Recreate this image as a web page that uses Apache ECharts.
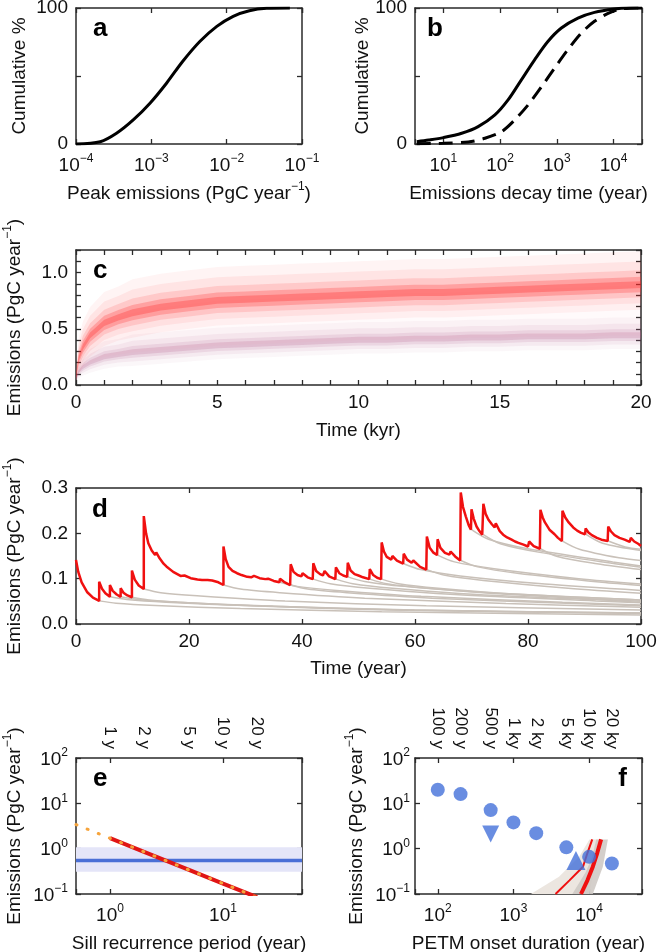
<!DOCTYPE html>
<html><head><meta charset="utf-8">
<script src="https://cdn.jsdelivr.net/npm/echarts@6.0.0/dist/echarts.min.js"></script>
<style>html,body{margin:0;padding:0;background:#fff}#c{width:657px;height:952px}</style>
</head><body><div id="c"></div><script>
// ---------------- DATA ----------------
// panel a: cumulative distribution of peak emissions
const aPeak = [1e-4, 2.1e-4, 3.45e-4, 5.75e-4, 9.6e-4, 1.59e-3, 2.6e-3, 4.4e-3, 7.4e-3, 1.22e-2, 2.0e-2, 3.4e-2, 6.9e-2];
const aCum  = [0, 1.7, 7.9, 17.7, 30, 44.7, 60.7, 75.4, 86.5, 93.9, 98, 99.75, 100];
// panel b: cumulative distribution of decay times
const bSolidT   = [3.4, 5.5, 10, 21, 41, 81, 138, 237, 405, 694, 1200, 2350, 4600, 10300, 17700, 31600];
const bSolidCum = [1.7, 2.9, 4.7, 7.9, 12.8, 21.4, 32.4, 47.2, 61.9, 75.4, 85.3, 92.6, 96.8, 99.3, 100, 100];
const bDashT    = [3.4, 10, 27.5, 54, 106, 181, 310, 530, 910, 1560, 2700, 4600, 7800, 13500, 31600];
const bDashCum  = [0.2, 0.5, 1.5, 4.2, 9.1, 17.7, 28.7, 41.8, 55.8, 69.3, 81.6, 90.2, 95.8, 99.3, 100];
// panel c: ensemble density (centre and spread of the two clouds)
const cTime      = [0, 0.1, 0.25, 0.5, 1, 1.5, 2, 3, 4, 5, 6, 7, 8, 9, 10, 11, 12, 13, 14, 15, 16, 17, 18, 19, 20];
const cRedMid    = [0.08, 0.24, 0.34, 0.44, 0.55, 0.60, 0.64, 0.69, 0.72, 0.75, 0.76, 0.77, 0.78, 0.79, 0.80, 0.81, 0.82, 0.82, 0.83, 0.84, 0.85, 0.86, 0.87, 0.88, 0.89];
const cRedSpread = [0.03, 0.08, 0.10, 0.11, 0.12, 0.12, 0.13, 0.13, 0.13, 0.13, 0.13, 0.13, 0.13, 0.13, 0.13, 0.13, 0.13, 0.13, 0.13, 0.13, 0.13, 0.13, 0.13, 0.13, 0.13];
const cPurMid    = [0.06, 0.12, 0.16, 0.20, 0.25, 0.27, 0.29, 0.31, 0.33, 0.35, 0.36, 0.37, 0.38, 0.39, 0.40, 0.40, 0.41, 0.41, 0.42, 0.42, 0.43, 0.43, 0.43, 0.44, 0.44];
const cPurSpread = [0.02, 0.04, 0.05, 0.06, 0.07, 0.07, 0.08, 0.08, 0.08, 0.08, 0.08, 0.08, 0.08, 0.08, 0.08, 0.08, 0.08, 0.08, 0.08, 0.08, 0.08, 0.08, 0.08, 0.08, 0.08];
// panel d: total emissions (red) and decaying contributions (grey)
const dRed = [[0,0.141],[0.4,0.115],[1,0.092],[2,0.070],[3,0.058],[4.1,0.051],
 [4.1,0.093],[4.6,0.078],[5.2,0.068],[6.0,0.060],
 [6.0,0.086],[6.5,0.073],[7.2,0.065],[7.9,0.060],
 [7.9,0.079],[8.4,0.069],[9.1,0.063],[9.9,0.059],
 [9.9,0.118],[10.4,0.098],[11.1,0.085],[12.0,0.077],
 [12.0,0.238],[12.4,0.200],[12.8,0.178],[13.4,0.162],[14.0,0.152],[14.2,0.158],[14.8,0.145],[15.5,0.133],[16.0,0.127],[16.2,0.130],[17.2,0.115],[18.5,0.106],[19.2,0.107],[20.3,0.101],[21.5,0.098],[22.3,0.097],[22.5,0.101],[23.3,0.097],[24.1,0.096],[24.3,0.099],[25.2,0.092],[26.1,0.086],
 [26.1,0.171],[26.5,0.143],[27.0,0.126],[27.7,0.117],[28.5,0.112],[29.3,0.108],[30.3,0.104],[31.0,0.103],[31.5,0.106],[32.5,0.101],[33.5,0.099],[34.0,0.100],[35.0,0.095],[36.0,0.092],
 [36.1,0.100],[36.8,0.093],[37.9,0.086],
 [38.0,0.132],[38.5,0.115],[39.2,0.108],[39.9,0.105],[40.1,0.112],[41.0,0.103],[41.9,0.099],
 [42.0,0.134],[42.5,0.117],[43.2,0.110],[43.7,0.107],[44.0,0.117],[44.8,0.105],[45.9,0.099],
 [46.0,0.125],[46.6,0.112],[47.3,0.107],[48.0,0.104],
 [48.1,0.135],[48.6,0.118],[49.3,0.110],[50.0,0.107],[50.8,0.103],[51.9,0.099],
 [52.0,0.121],[52.6,0.108],[53.3,0.102],[54.0,0.099],
 [54.1,0.180],[54.5,0.160],[55.0,0.148],[55.8,0.142],[56.0,0.150],[56.8,0.140],[57.9,0.133],
 [58.0,0.155],[58.6,0.142],[59.4,0.135],[59.7,0.140],[60.9,0.126],[62.0,0.120],
 [62.1,0.193],[62.6,0.168],[63.2,0.158],[63.9,0.152],
 [64.0,0.187],[64.5,0.168],[65.3,0.157],[66.1,0.153],[66.3,0.160],[67.1,0.149],[68.0,0.140],
 [68.1,0.290],[68.5,0.258],[69.0,0.237],[69.5,0.218],[69.9,0.208],
 [70.0,0.253],[70.4,0.232],[70.9,0.215],[71.4,0.205],[71.9,0.197],
 [72.1,0.265],[72.5,0.243],[73.0,0.230],[73.6,0.220],[74.1,0.213],[74.3,0.222],[75.0,0.205],[75.6,0.197],[76.3,0.191],[77.1,0.186],[77.7,0.182],[78.3,0.179],[79.2,0.175],[80.0,0.171],[80.2,0.182],[81.0,0.172],[82.1,0.166],
 [82.2,0.252],[82.6,0.235],[83.0,0.224],[83.8,0.208],[84.7,0.198],[85.3,0.190],[86.0,0.183],
 [86.1,0.250],[86.6,0.235],[87.2,0.224],[88.0,0.213],[88.7,0.206],[89.4,0.201],[90.1,0.198],
 [90.2,0.211],[90.7,0.202],[91.3,0.196],[91.6,0.199],[92.2,0.190],[93.0,0.186],[94.1,0.183],
 [94.2,0.215],[94.7,0.204],[95.3,0.196],[96.2,0.190],[97.1,0.186],[98.0,0.181],[98.2,0.190],[98.8,0.182],[99.5,0.177],[100,0.172]];
const dGrey = [
 [[4.1,0.051],[7.1,0.046],[14.1,0.041],[29.1,0.034],[54.1,0.027],[100,0.020]],
 [[6,0.060],[9,0.054],[16,0.048],[31,0.040],[56,0.031],[100,0.023]],
 [[7.9,0.060],[10.9,0.054],[17.9,0.048],[32.9,0.040],[57.9,0.031],[100,0.024]],
 [[9.9,0.059],[12.9,0.053],[19.9,0.047],[34.9,0.039],[59.9,0.031],[100,0.024]],
 [[12,0.077],[15,0.069],[22,0.062],[37,0.051],[62,0.040],[100,0.031]],
 [[26.1,0.086],[29.1,0.077],[36.1,0.069],[51.1,0.057],[76.1,0.045],[100,0.037]],
 [[36.1,0.092],[39.1,0.083],[46.1,0.074],[61.1,0.061],[86.1,0.048],[100,0.042]],
 [[38,0.086],[41,0.077],[48,0.069],[63,0.057],[88,0.045],[100,0.040]],
 [[42,0.099],[45,0.089],[52,0.079],[67,0.065],[92,0.051],[100,0.047]],
 [[46,0.099],[49,0.089],[56,0.079],[71,0.065],[96,0.051],[100,0.048]],
 [[48.1,0.104],[51.1,0.094],[58.1,0.083],[73.1,0.069],[98.1,0.054],[100,0.052]],
 [[52,0.099],[55,0.089],[62,0.079],[77,0.065],[100,0.050]],
 [[54.1,0.099],[57.1,0.089],[64.1,0.079],[79.1,0.065],[100,0.053]],
 [[58,0.133],[61,0.120],[68,0.106],[83,0.088],[100,0.074]],
 [[62.1,0.120],[65.1,0.108],[72.1,0.096],[87.1,0.079],[100,0.068]],
 [[64,0.152],[67,0.137],[74,0.122],[89,0.100],[100,0.088]],
 [[68.1,0.140],[71.1,0.126],[78.1,0.112],[93.1,0.092],[100,0.085]],
 [[70,0.208],[73,0.187],[80,0.166],[95,0.137],[100,0.128]],
 [[72.1,0.197],[75.1,0.177],[82.1,0.158],[97.1,0.130],[100,0.125]],
 [[82.2,0.166],[85.2,0.149],[92.2,0.133],[100,0.120]],
 [[86.1,0.183],[89.1,0.165],[96.1,0.146],[100,0.140]],
 [[90.2,0.198],[93.2,0.178],[100,0.162]],
 [[94.2,0.183],[97.2,0.170],[100,0.165]]
];
// panel e
const eRedX = [1, 2, 5, 10, 20];
const eRedY = [1.7, 0.85, 0.34, 0.17, 0.085];
const eOrX  = [0.5, 1, 2, 5, 10, 20];
const eOrY  = [3.4, 1.7, 0.85, 0.34, 0.17, 0.085];
const eBlueY = 0.55, eBandLo = 0.31, eBandHi = 1.07;
const eTopVals = [1, 2, 5, 10, 20];
const eTopLabels = ['1 y', '2 y', '5 y', '10 y', '20 y'];
// panel f
const fCircX = [100, 200, 500, 1000, 2000, 5000, 10000, 20000];
const fCircY = [20, 16, 7.1, 3.8, 2.2, 1.07, 0.66, 0.47];
const fDownX = [500], fDownY = [2.1];
const fUpX = [6700], fUpY = [0.55];
const fThinX  = [3600, 5500, 8300, 9500, 11000];
const fThinY  = [0.1, 0.2, 0.4, 0.8, 1.6];
const fThickX = [7800, 9500, 11200, 12800, 14400];
const fThickY = [0.1, 0.2, 0.4, 0.8, 1.6];
const fBeigeX = [1700, 4000, 7400, 10100, 15000, 12000, 10000];
const fBeigeY = [0.1, 0.24, 0.66, 1.6, 1.6, 0.4, 0.1];
const fGreyX  = [6000, 9000, 11000, 12400, 17700, 15200, 11200];
const fGreyY  = [0.1, 0.3, 0.66, 1.6, 1.6, 0.4, 0.1];
const fTopVals = [100, 200, 500, 1000, 2000, 5000, 10000, 20000];
const fTopLabels = ['100 y', '200 y', '500 y', '1 ky', '2 ky', '5 ky', '10 ky', '20 ky'];

// ---------------- STYLE HELPERS ----------------
const FF = '"Liberation Sans", Arial, Helvetica, sans-serif';
const TXT = '#111';
const AXC = '#2a2a2a';
const zip = (xs, ys) => xs.map((x, i) => [x, ys[i]]);
const rich = {
  n: {fontSize: 19, fontFamily: FF, color: TXT, lineHeight: 22, verticalAlign: 'bottom'},
  b: {fontSize: 19, fontFamily: FF, color: TXT, lineHeight: 22, verticalAlign: 'bottom'},
  s: {fontSize: 12, fontFamily: FF, color: TXT, lineHeight: 22, verticalAlign: 'top'}
};
function logFmt(v) {
  const e = Math.log10(v), r = Math.round(e);
  if (Math.abs(e - r) > 1e-6) return '';
  return '{b|10}{s|' + (r < 0 ? '\u2212' + (-r) : String(r)) + '}';
}
function baseAxis() {
  return {
    axisLine: {show: true, onZero: false, lineStyle: {color: AXC, width: 1.5}},
    axisTick: {show: true, inside: true, length: 5, lineStyle: {color: AXC, width: 1.3}},
    splitLine: {show: false}, minorSplitLine: {show: false},
    nameMoveOverlap: false
  };
}
function pairX(gi, scale, bottomExtra, topExtra) {
  return [
    Object.assign(baseAxis(), scale, {gridIndex: gi, position: 'bottom'}, bottomExtra),
    Object.assign(baseAxis(), scale, {gridIndex: gi, position: 'top', axisLabel: {show: false}}, topExtra || {})
  ];
}
function pairY(gi, scale, leftExtra) {
  return [
    Object.assign(baseAxis(), scale, {gridIndex: gi, position: 'left'}, leftExtra),
    Object.assign(baseAxis(), scale, {gridIndex: gi, position: 'right', axisLabel: {show: false}})
  ];
}
const logLabel = (margin) => ({formatter: logFmt, margin: margin, rich: rich, color: TXT, fontFamily: FF, fontSize: 19});
const linLabel = (margin, fmt) => ({formatter: fmt, margin: margin, color: TXT, fontFamily: FF, fontSize: 19});
const nameStyle = {rich: rich};
const EM = '{n|Emissions (PgC year}{s|\u22121}{n|)}';
function topLabel(vals, labels) {
  return {show: true, customValues: vals, rotate: 90, margin: 9, color: TXT, fontFamily: FF, fontSize: 17,
    formatter: v => { for (let i = 0; i < vals.length; i++) { if (Math.abs(Math.log10(v / vals[i])) < 1e-6) return labels[i]; } return ''; }};
}
function poly(xi, pts, fill, opacity, z) {
  return {type: 'custom', xAxisIndex: xi, yAxisIndex: xi, clip: true, silent: true, z: z,
    data: [pts[0]],
    renderItem: (params, api) => ({type: 'polygon', shape: {points: pts.map(p => api.coord(p))}, style: {fill: fill, opacity: opacity}})};
}
function band(xi, xs, lo, hi, fill, opacity, z) {
  const pts = xs.map((x, i) => [x, hi[i]]).concat(xs.map((x, i) => [x, lo[i]]).reverse());
  return poly(xi, pts, fill, opacity, z);
}

// ---------------- AXES ----------------
const xAxis = [].concat(
  pairX(0, {type: 'log', logBase: 10, min: 1e-4, max: 1e-1},
    {axisLabel: logLabel(9), name: '{n|Peak emissions (PgC year}{s|\u22121}{n|)}', nameLocation: 'middle', nameGap: 37, nameTextStyle: nameStyle}),
  pairX(1, {type: 'log', logBase: 10, min: Math.pow(10, 0.5), max: Math.pow(10, 4.5)},
    {axisLabel: logLabel(9), name: '{n|Emissions decay time (year)}', nameLocation: 'middle', nameGap: 37, nameTextStyle: nameStyle}),
  pairX(2, {type: 'value', min: 0, max: 20, interval: 1},
    {axisLabel: linLabel(8, v => (Math.round(v) % 5 === 0 ? String(Math.round(v)) : '')), name: '{n|Time (kyr)}', nameLocation: 'middle', nameGap: 33, nameTextStyle: nameStyle}),
  pairX(3, {type: 'value', min: 0, max: 100, interval: 20},
    {axisLabel: linLabel(8, v => String(Math.round(v))), name: '{n|Time (year)}', nameLocation: 'middle', nameGap: 32, nameTextStyle: nameStyle}),
  pairX(4, {type: 'log', logBase: 10, min: 0.5, max: 50},
    {axisLabel: logLabel(9), name: '{n|Sill recurrence period (year)}', nameLocation: 'middle', nameGap: 37, nameTextStyle: nameStyle},
    {axisLabel: topLabel(eTopVals, eTopLabels)}),
  pairX(5, {type: 'log', logBase: 10, min: 50, max: 50000},
    {axisLabel: logLabel(9), name: '{n|PETM onset duration (year)}', nameLocation: 'middle', nameGap: 37, nameTextStyle: nameStyle},
    {axisLabel: topLabel(fTopVals, fTopLabels)})
);
const yAxis = [].concat(
  pairY(0, {type: 'value', min: 0, max: 100, interval: 50},
    {axisLabel: linLabel(8, v => (v === 50 ? '' : String(v))), name: '{n|Cumulative %}', nameLocation: 'middle', nameGap: 47, nameTextStyle: nameStyle}),
  pairY(1, {type: 'value', min: 0, max: 100, interval: 50},
    {axisLabel: linLabel(8, v => (v === 50 ? '' : String(v))), name: '{n|Cumulative %}', nameLocation: 'middle', nameGap: 43, nameTextStyle: nameStyle}),
  pairY(2, {type: 'value', min: 0, max: 1.2, interval: 0.1},
    {axisLabel: linLabel(8, v => { const k = Math.round(v * 10); return (k % 5 === 0) ? (k / 10).toFixed(1) : ''; }), name: EM, nameLocation: 'middle', nameGap: 52, nameTextStyle: nameStyle}),
  pairY(3, {type: 'value', min: 0, max: 0.3, interval: 0.1},
    {axisLabel: linLabel(8, v => v.toFixed(1)), name: EM, nameLocation: 'middle', nameGap: 52, nameTextStyle: nameStyle}),
  pairY(4, {type: 'log', logBase: 10, min: 0.1, max: 100},
    {axisLabel: logLabel(8), name: EM, nameLocation: 'middle', nameGap: 52, nameTextStyle: nameStyle}),
  pairY(5, {type: 'log', logBase: 10, min: 0.1, max: 100},
    {axisLabel: logLabel(5), name: EM, nameLocation: 'middle', nameGap: 49, nameTextStyle: nameStyle})
);

// ---------------- SERIES ----------------
const series = [];
const lineS = (xi, data, color, width, extra) => Object.assign({
  type: 'line', xAxisIndex: xi, yAxisIndex: xi, data: data, showSymbol: false, symbol: 'none', silent: true,
  lineStyle: {color: color, width: width}, clip: true}, extra || {});
// a
series.push(lineS(0, zip(aPeak, aCum), '#000', 3, {smooth: 0.3}));
// b
series.push(lineS(2, zip(bSolidT, bSolidCum), '#000', 3, {smooth: 0.3}));
series.push(lineS(2, zip(bDashT, bDashCum), '#000', 3, {smooth: 0.3, lineStyle: {color: '#000', width: 3, type: [14, 8]}}));
// c : density clouds
const purLayers = [[2.0, 1.5, 0.05], [1.3, 1.0, 0.08], [0.7, 0.6, 0.14], [0.35, 0.3, 0.2]];
purLayers.forEach(([u, d, op], k) => series.push(band(4, cTime,
  cPurMid.map((m, i) => m - cPurSpread[i] * d), cPurMid.map((m, i) => m + cPurSpread[i] * u), '#b45a8c', op, 2 + k)));
series.push(band(4, cTime, cPurMid, cRedMid, '#ff7a9a', 0.04, 6));
const redLayers = [[2.3, 1.7, 0.05], [1.6, 1.25, 0.08], [1.0, 0.85, 0.15], [0.55, 0.5, 0.26], [0.25, 0.22, 0.32]];
redLayers.forEach(([u, d, op], k) => series.push(band(4, cTime,
  cRedMid.map((m, i) => m - cRedSpread[i] * d), cRedMid.map((m, i) => m + cRedSpread[i] * u), '#ff3030', op, 7 + k)));
// d
dGrey.forEach(g => series.push(lineS(6, g, '#c9c1b9', 1.5, {smooth: 0.3, z: 2})));
series.push(lineS(6, dRed, '#f01010', 2.5, {z: 5}));
// e
series.push(poly(8, [[0.5, eBandLo], [50, eBandLo], [50, eBandHi], [0.5, eBandHi]], '#e4e5f8', 1, 1));
series.push(lineS(8, [[0.5, eBlueY], [50, eBlueY]], '#4a6fd6', 3.5, {z: 3}));
series.push(lineS(8, zip(eRedX, eRedY), '#e01515', 4, {z: 4}));
series.push(lineS(8, zip(eOrX, eOrY), '#f6a43c', 3, {z: 5, lineStyle: {color: '#f6a43c', width: 3, type: [1, 11], cap: 'round'}}));
// f
series.push(poly(10, zip(fBeigeX, fBeigeY), '#ece6e0', 1, 1));
series.push(poly(10, zip(fGreyX, fGreyY), '#cfcac5', 0.9, 2));
series.push(lineS(10, zip(fThinX, fThinY), '#f01010', 2, {z: 3}));
series.push(lineS(10, zip(fThickX, fThickY), '#f01010', 4, {z: 3}));
series.push({type: 'scatter', xAxisIndex: 10, yAxisIndex: 10, data: zip(fCircX, fCircY), symbol: 'circle', symbolSize: 14, itemStyle: {color: '#4470d9'}, z: 5, silent: true});
series.push({type: 'scatter', xAxisIndex: 10, yAxisIndex: 10, data: zip(fDownX, fDownY), symbol: 'triangle', symbolRotate: 180, symbolSize: 17, itemStyle: {color: '#4470d9'}, z: 5, silent: true});
series.push({type: 'scatter', xAxisIndex: 10, yAxisIndex: 10, data: zip(fUpX, fUpY), symbol: 'triangle', symbolSize: 19, itemStyle: {color: '#4470d9'}, z: 5, silent: true});

// ---------------- PANEL LETTERS ----------------
const letterFont = 'bold 26px ' + FF;
const letters = [
  {text: 'a', left: 93, top: 16}, {text: 'b', left: 427, top: 16},
  {text: 'c', left: 93, top: 258}, {text: 'd', left: 92, top: 497},
  {text: 'e', left: 93, top: 766}, {text: 'f', right: 30, top: 766}
];
const graphic = letters.map(l => Object.assign({type: 'text', z: 100, style: {text: l.text, font: letterFont, fill: '#000'}},
  l.left !== undefined ? {left: l.left} : {right: l.right}, {top: l.top}));

const grids = [
  {left: 76, top: 8, width: 226, height: 136},
  {left: 415, top: 8, width: 227, height: 136},
  {left: 76, top: 250, width: 565, height: 135},
  {left: 76, top: 488, width: 565, height: 136},
  {left: 76, top: 758, width: 226, height: 136},
  {left: 415, top: 758, width: 227, height: 136}
].map(g => Object.assign({containLabel: false, outerBoundsMode: 'none'}, g));

const chart = echarts.init(document.getElementById('c'), null, {renderer: 'canvas'});
chart.setOption({animation: false, backgroundColor: '#fff', textStyle: {fontFamily: FF},
  grid: grids, xAxis: xAxis, yAxis: yAxis, series: series, graphic: graphic});
</script></body></html>
